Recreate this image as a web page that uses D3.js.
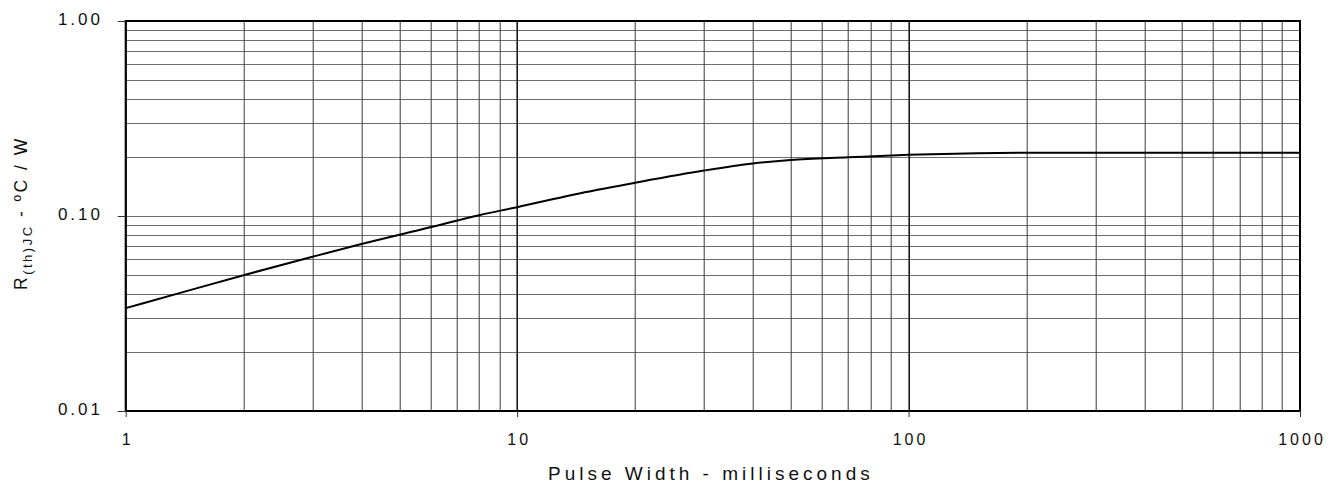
<!DOCTYPE html>
<html>
<head>
<meta charset="utf-8">
<script src="https://cdn.jsdelivr.net/npm/d3@7"></script>
<style>
  body { margin: 0; background: #fff; }
  text { font-family: "Liberation Sans", Arial, sans-serif; fill: #111; }
</style>
</head>
<body>
<div id="chart"></div>
<script>
// pulse width (ms) and thermal resistance (C/W)
var pulseWidth = [1, 1.4, 2, 3, 4, 6, 8, 10, 14, 20, 30, 40, 50, 70, 100, 150, 200, 500, 1000];
var rth        = [0.0337, 0.0407, 0.0497, 0.0618, 0.0718, 0.0875, 0.101, 0.111, 0.129, 0.148, 0.171, 0.186, 0.194, 0.200, 0.206, 0.210, 0.211, 0.211, 0.211];

var xTicks = [1, 10, 100, 1000];
var xTickLabels = ["1", "10", "100", "1000"];
var yTicks = [0.01, 0.1, 1];
var yTickLabels = ["0.01", "0.10", "1.00"];

var margin = {top: 21, right: 44, bottom: 75, left: 125.7},
    width = 1344 - margin.left - margin.right,
    height = 486 - margin.top - margin.bottom;

var svg = d3.select("#chart").append("svg")
  .attr("width", 1344)
  .attr("height", 486)
  .append("g")
  .attr("transform", "translate(" + margin.left + "," + margin.top + ")");

var x = d3.scaleLog().domain([1, 1000]).range([0, width]);
var y = d3.scaleLog().domain([0.01, 1]).range([height, 0]);

// grid lines, every 1..9 of each decade
var xGrid = [], yGrid = [];
[1, 10, 100].forEach(function(d) {
  for (var k = 1; k <= 10; k++) xGrid.push(d * k);
});
[0.01, 0.1].forEach(function(d) {
  for (var k = 1; k <= 10; k++) yGrid.push(+(d * k).toFixed(3));
});

svg.selectAll(".hgrid")
  .data(yGrid)
  .enter().append("line")
  .attr("class", "hgrid")
  .attr("x1", 0)
  .attr("x2", width)
  .attr("y1", function(d) { return Math.round(y(d)) + 0.5; })
  .attr("y2", function(d) { return Math.round(y(d)) + 0.5; })
  .attr("stroke", "#6e6e6e")
  .attr("stroke-width", 1);

svg.selectAll(".vgrid")
  .data(xGrid)
  .enter().append("line")
  .attr("class", "vgrid")
  .attr("y1", 0)
  .attr("y2", height)
  .attr("x1", function(d) { return Math.round(x(d)) + 0.5; })
  .attr("x2", function(d) { return Math.round(x(d)) + 0.5; })
  .attr("stroke", function(d) { return xTicks.indexOf(d) >= 0 ? "#000" : "#3a3a3a"; })
  .attr("stroke-width", 1);

// frame
svg.append("rect")
  .attr("x", 0)
  .attr("y", 0)
  .attr("width", width)
  .attr("height", height)
  .attr("fill", "none")
  .attr("stroke", "#000")
  .attr("stroke-width", 2);

// axes: decade ticks only
var xAxis = d3.axisBottom(x)
  .tickValues(xTicks)
  .tickSize(6)
  .tickPadding(16.5)
  .tickFormat(function(d, i) { return xTickLabels[i]; });

var yAxis = d3.axisLeft(y)
  .tickValues(yTicks)
  .tickSize(8)
  .tickPadding(14.7)
  .tickFormat(function(d, i) { return yTickLabels[i]; });

var gx = svg.append("g")
  .attr("transform", "translate(0," + height + ")")
  .call(xAxis);
var gy = svg.append("g").call(yAxis);

[gx, gy].forEach(function(g) {
  g.select(".domain").remove();
  g.selectAll(".tick line").attr("stroke", "#333");
  g.selectAll(".tick text")
    .style("font-family", "'Liberation Sans', Arial, sans-serif")
    .style("letter-spacing", "3px")
    .attr("fill", "#111");
});
gx.selectAll(".tick text").style("font-size", "16px").attr("dx", 1.5);
gy.selectAll(".tick text").style("font-size", "17px").attr("dy", "0.22em");

// the curve
var line = d3.line()
  .x(function(d) { return x(d[0]); })
  .y(function(d) { return y(d[1]); })
  .curve(d3.curveMonotoneX);

svg.append("path")
  .datum(d3.zip(pulseWidth, rth))
  .attr("fill", "none")
  .attr("stroke", "#000")
  .attr("stroke-width", 2)
  .attr("d", line);

// axis titles
svg.append("text")
  .attr("x", width / 2 - 2)
  .attr("y", height + 69)
  .attr("text-anchor", "middle")
  .style("font-size", "19px")
  .style("letter-spacing", "4px")
  .text("Pulse Width - milliseconds");

var ylab = svg.append("text")
  .attr("transform", "translate(" + (-99) + "," + (height / 2 + 74) + ") rotate(-90)")
  .attr("text-anchor", "start")
  .style("font-size", "17.5px")
  .style("letter-spacing", "2.5px");
ylab.append("tspan").text("R");
ylab.append("tspan").attr("dy", 5).style("font-size", "13px").style("letter-spacing", "2.5px").text("(th)JC");
ylab.append("tspan").attr("dy", -5).text(" - ºC / W");
</script>
</body>
</html>
